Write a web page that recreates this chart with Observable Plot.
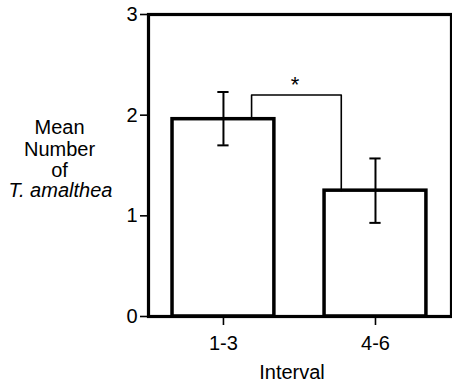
<!DOCTYPE html>
<html>
<head>
<meta charset="utf-8">
<script src="https://cdn.jsdelivr.net/npm/d3@7"></script>
<script src="https://cdn.jsdelivr.net/npm/@observablehq/plot@0.6"></script>
<style>
  html, body { margin: 0; padding: 0; background: #fff; }
  #chart svg { display: block; }
</style>
</head>
<body>
<div id="chart"></div>
<script>
// Data
const categories = ["1-3", "4-6"];
const positions = [1, 2];
const means = [1.96, 1.25];
const errLow = [1.70, 0.93];
const errHigh = [2.23, 1.57];
const yTicks = [0, 1, 2, 3];
const bracketX = [1.185, 1.185, 1.775, 1.775];
const bracketY = [1.96, 2.20, 2.20, 1.25];
const sigLabel = "*";
const sigPos = [1.47, 2.30];
const yLabelLines = ["Mean", "Number", "of"];
const yLabelLineY = [1.88, 1.66, 1.45];
const yLabelItalic = "T. amalthea";
const yLabelItalicY = 1.25;
const xLabel = "Interval";

const barHalf = 0.335;
const capHalf = 0.037;

const bars = positions.map((p, i) => ({x1: p - barHalf, x2: p + barHalf, y: means[i]}));
const errs = positions.map((p, i) => ({x: p, lo: errLow[i], hi: errHigh[i]}));
const bracket = bracketX.map((x, i) => ({x, y: bracketY[i]}));

const font = "'Liberation Sans', Arial, Helvetica, sans-serif";

const chart = Plot.plot({
  width: 452,
  height: 386,
  marginLeft: 148,
  marginRight: 1,
  marginTop: 14,
  marginBottom: 70,
  style: {fontFamily: font, fontSize: "20px", background: "#fff", color: "#000"},
  x: {domain: [0.507, 2.5], axis: null},
  y: {domain: [0, 3], axis: null},
  marks: [
    Plot.rectY(bars, {x1: "x1", x2: "x2", y1: 0, y2: "y", fill: "#fff", stroke: "#000", strokeWidth: 3.5}),
    Plot.ruleX(errs, {x: "x", y1: "lo", y2: "hi", stroke: "#000", strokeWidth: 2}),
    Plot.ruleY(errs, {y: "hi", x1: d => d.x - capHalf, x2: d => d.x + capHalf, stroke: "#000", strokeWidth: 2}),
    Plot.ruleY(errs, {y: "lo", x1: d => d.x - capHalf, x2: d => d.x + capHalf, stroke: "#000", strokeWidth: 2}),
    Plot.line(bracket, {x: "x", y: "y", stroke: "#000", strokeWidth: 1.6}),
    Plot.text([sigLabel], {x: sigPos[0], y: sigPos[1], text: d => d, fontSize: 22, fill: "#000"}),
    Plot.frame({stroke: "#000", strokeWidth: 3.2}),
    Plot.axisY(yTicks, {tickSize: 8, tickPadding: 3, strokeWidth: 1.6, fontSize: 20, label: null, tickFormat: d3.format("d"), fill: "#000", stroke: "#000"}),
    Plot.axisX(positions, {tickSize: 9, tickPadding: 10, strokeWidth: 1.6, fontSize: 20, label: null, tickFormat: (d, i) => categories[i], fill: "#000", stroke: "#000"}),
    Plot.text([xLabel], {frameAnchor: "bottom", dy: 56, dx: -8, text: d => d, fontSize: 20, lineAnchor: "middle", fill: "#000"}),
    Plot.text(yLabelLines, {y: (d, i) => yLabelLineY[i], frameAnchor: "left", dx: -89, text: d => d, textAnchor: "middle", fontSize: 20, fill: "#000"}),
    Plot.text([yLabelItalic], {y: yLabelItalicY, frameAnchor: "left", dx: -88, text: d => d, textAnchor: "middle", fontSize: 20, fontStyle: "italic", fill: "#000"})
  ]
});
document.getElementById("chart").appendChild(chart);
</script>
</body>
</html>
